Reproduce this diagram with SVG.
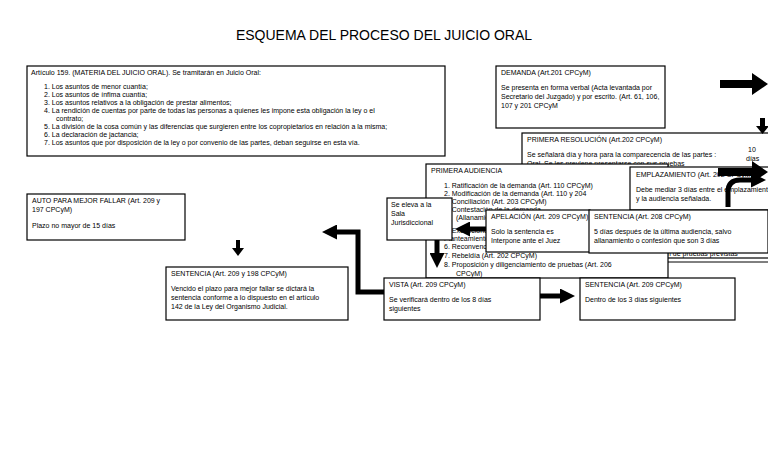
<svg xmlns="http://www.w3.org/2000/svg" width="768" height="466" viewBox="0 0 768 466">
<style>
.b{fill:#fff;stroke:#000;stroke-width:1.2}
.f{fill:#fff;stroke:#000;stroke-width:1}
text{font-family:"Liberation Sans",Arial,sans-serif;font-size:7px;fill:#000}
.t{font-size:14px}
.a{fill:#000}
.k{fill:none;stroke:#000;stroke-width:5}
</style>
<defs>
<marker id="m" markerWidth="3" markerHeight="3" refX="1" refY="1.5" orient="auto"><path d="M0,0L3,1.5L0,3z" fill="#000"/></marker>
</defs>
<rect width="768" height="466" fill="#fff"/>
<text class="t" x="384" y="40" text-anchor="middle">ESQUEMA DEL PROCESO DEL JUICIO ORAL</text>

<g id="art159">
<rect class="b" x="27" y="66" width="418" height="90"/>
<text x="31" y="75">Artículo 159. (MATERIA DEL JUICIO ORAL). Se tramitarán en Juicio Oral:</text>
<text x="44" y="89">1.   Los asuntos de menor cuantía;</text>
<text x="44" y="97">2.   Los asuntos de ínfima cuantía;</text>
<text x="44" y="105">3.   Los asuntos relativos a la obligación de prestar alimentos;</text>
<text x="44" y="113">4.   La rendición de cuentas por parte de todas las personas a quienes les impone esta obligación la ley o el</text>
<text x="56" y="121">contrato;</text>
<text x="44" y="129">5.   La división de la cosa común y las diferencias que surgieren entre los copropietarios en relación a la misma;</text>
<text x="44" y="137">6.   La declaración de jactancia;</text>
<text x="44" y="145">7.   Los asuntos que por disposición de la ley o por convenio de las partes, deban seguirse en esta vía.</text>
</g>

<g id="demanda">
<rect class="b" x="496" y="66" width="169" height="62"/>
<text x="501" y="75">DEMANDA (Art.201 CPCyM)</text>
<text x="501" y="90">Se presenta en forma verbal (Acta levantada por</text>
<text x="501" y="99">Secretario del Juzgado) y por escrito. (Art. 61, 106,</text>
<text x="501" y="108">107 y 201 CPCyM</text>
</g>

<g id="resolucion">
<rect class="f" x="622" y="180" width="160" height="82"/>
<rect class="f" x="612" y="175" width="170" height="80"/>
<rect class="b" x="522" y="133" width="260" height="125"/>
<text x="527" y="142">PRIMERA RESOLUCIÓN (Art.202 CPCyM)</text>
<text x="527" y="157">Se señalará día y hora para la comparecencia de las partes :</text>
<text x="527" y="166">Oral. Se les previene presentarse con sus pruebas</text>
<text x="748" y="152">10</text>
<text x="746" y="161">días</text>
<text x="630" y="256">6. Recepción de pruebas previstas</text>
</g>

<g id="audiencia">
<rect class="b" x="426" y="164" width="242" height="114"/>
<text x="431" y="173">PRIMERA AUDIENCIA</text>
<text x="444" y="188">1.   Ratificación de la demanda (Art. 110 CPCyM)</text>
<text x="444" y="196">2.   Modificación de la demanda (Art. 110 y 204</text>
<text x="444" y="204">3.   Conciliación (Art. 203 CPCyM)</text>
<text x="444" y="212">4.   Contestación de la demanda</text>
<text x="456" y="220">(Allanamiento)</text>
<text x="444" y="233">5.   Excepciones</text>
<text x="444" y="241">      Planteamiento</text>
<text x="444" y="249">6.   Reconvención</text>
<text x="444" y="258">7.   Rebeldía (Art. 202 CPCyM)</text>
<text x="444" y="267">8.   Proposición y diligenciamiento de pruebas (Art. 206</text>
<text x="456" y="276">CPCyM)</text>
</g>

<g id="emplazamiento">
<rect class="b" x="630" y="167" width="145" height="43"/>
<text x="636" y="177">EMPLAZAMIENTO (Art. 202 CPCyM)</text>
<text x="636" y="192">Debe mediar 3 días entre el emplazamiento</text>
<text x="636" y="201">y la audiencia señalada.</text>
</g>

<g id="eleva">
<rect class="b" x="387" y="198" width="65" height="42"/>
<text x="391" y="207">Se eleva a la</text>
<text x="391" y="216">Sala</text>
<text x="391" y="225">Jurisdiccional</text>
</g>

<g id="apelacion">
<rect class="b" x="486" y="210" width="104" height="42"/>
<text x="491" y="219">APELACIÓN (Art. 209 CPCyM)</text>
<text x="491" y="234">Solo la sentencia es</text>
<text x="491" y="243">Interpone ante el Juez</text>
</g>

<g id="sentencia208">
<rect class="b" x="589" y="210" width="179" height="43"/>
<text x="594" y="219">SENTENCIA (Art. 208 CPCyM)</text>
<text x="594" y="234">5 días después de la última audiencia, salvo</text>
<text x="594" y="243">allanamiento o confesión que son 3 días</text>
</g>

<g id="auto">
<rect class="b" x="27" y="194" width="158" height="46"/>
<text x="32" y="203">AUTO PARA MEJOR FALLAR (Art. 209 y</text>
<text x="32" y="212">197 CPCyM)</text>
<text x="32" y="228">Plazo no mayor de 15 días</text>
</g>

<g id="sentencia198">
<rect class="b" x="166" y="267" width="182" height="53"/>
<text x="171" y="276">SENTENCIA (Art. 209 y 198 CPCyM)</text>
<text x="171" y="291">Vencido el plazo para mejor fallar se dictará la</text>
<text x="171" y="300">sentencia conforme a lo dispuesto en el artículo</text>
<text x="171" y="309">142 de la Ley del Organismo Judicial.</text>
</g>

<g id="vista">
<rect class="b" x="384" y="278" width="156" height="42"/>
<text x="389" y="287">VISTA (Art. 209 CPCyM)</text>
<text x="389" y="302">Se verificará dentro de los 8 días</text>
<text x="389" y="311">siguientes</text>
</g>

<g id="sentencia209">
<rect class="b" x="580" y="278" width="155" height="42"/>
<text x="585" y="287">SENTENCIA (Art. 209 CPCyM)</text>
<text x="585" y="302">Dentro de los 3 días siguientes</text>
</g>

<g id="connectors">
<path class="a" d="M720,80h32v-7l16,11l-16,11v-7h-32z"/>
<path class="a" d="M760,118h5v8h4l-6.5,8l-6.5,-8h4z"/>
<path class="a" d="M718,168h34v-7l16,11l-16,11v-7h-34z"/>
<path class="k" d="M728,207V192Q728,180 740,180H756" marker-end="url(#m)"/>
<path class="a" d="M236,240h4v8h4l-6,8l-6,-8h4z"/>
<path class="k" d="M384,292H358V232H332" marker-end="url(#m)"/>
<path class="k" d="M437,240V258" marker-end="url(#m)"/>
<path class="k" d="M486,229H465" marker-end="url(#m)"/>
<path class="k" d="M540,296H565" marker-end="url(#m)"/>
</g>
</svg>
